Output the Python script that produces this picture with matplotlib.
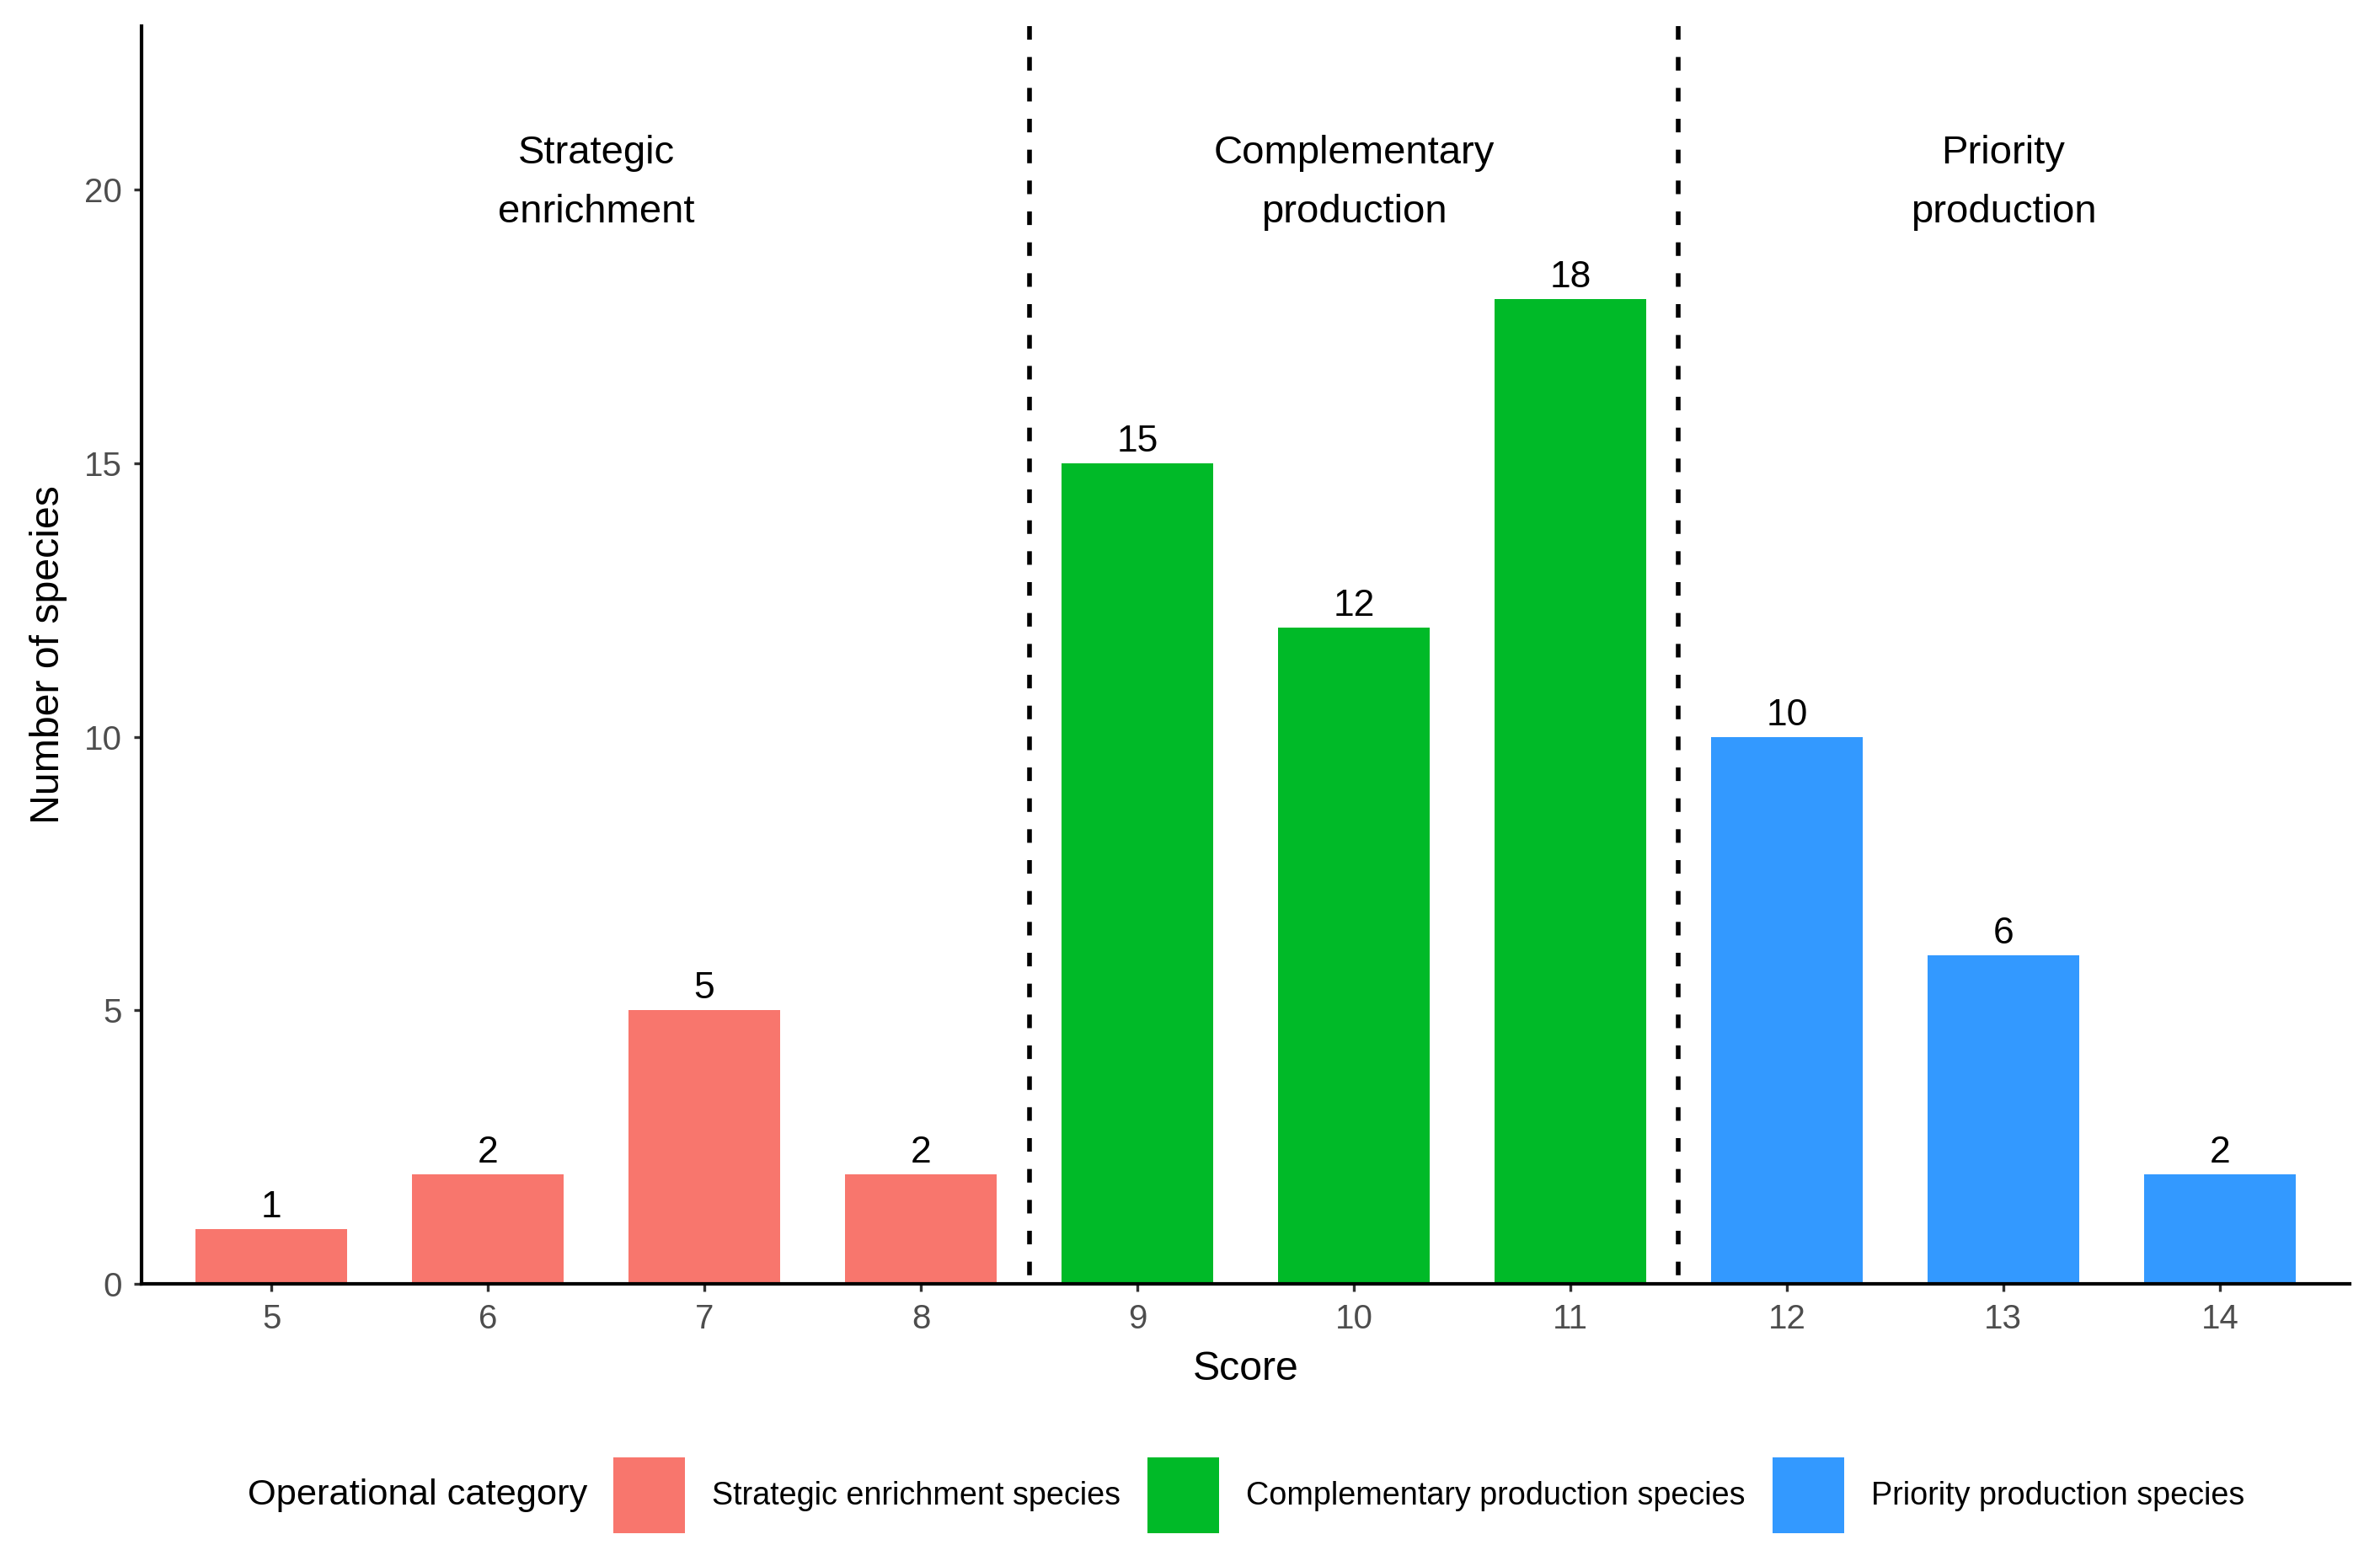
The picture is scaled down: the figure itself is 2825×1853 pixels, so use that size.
import matplotlib
matplotlib.use("Agg")
import matplotlib.pyplot as plt
import numpy as np
from matplotlib.patches import Patch

plt.rcParams['font.family'] = ['Liberation Sans', 'DejaVu Sans']

# ---- data ----
scores = [5, 6, 7, 8, 9, 10, 11, 12, 13, 14]
counts = [1, 2, 5, 2, 15, 12, 18, 10, 6, 2]
category = ["Strategic enrichment species"] * 4 + \
           ["Complementary production species"] * 3 + \
           ["Priority production species"] * 3
legend_order = ["Strategic enrichment species",
                "Complementary production species",
                "Priority production species"]
section_labels = ["Strategic\nenrichment", "Complementary\nproduction", "Priority\nproduction"]
colors = {"Strategic enrichment species": "#F8766D",
          "Complementary production species": "#00BA28",
          "Priority production species": "#3399FF"}
y_ticks = [0, 5, 10, 15, 20]

W, H, DPI = 2825, 1853, 200
fig = plt.figure(figsize=(W / DPI, H / DPI), dpi=DPI)
ax = fig.add_axes([168 / W, 1 - 1524 / H, (2789 - 168) / W, (1524 - 30.6) / H])

YMAX = 23
scores_a = np.array(scores)
counts_a = np.array(counts)
cat_a = np.array(category)

for cat in legend_order:
    m = cat_a == cat
    ax.bar(scores_a[m], counts_a[m], width=0.7, color=colors[cat], label=cat, zorder=2)

for s, c in zip(scores, counts):
    ax.text(s, c + 0.08, str(c), ha='center', va='bottom', fontsize=16, color='black')

# dividers & section labels
for i, cat in enumerate(legend_order):
    grp = scores_a[cat_a == cat]
    ax.text(grp.mean(), 20.13, section_labels[i], ha='center', va='center',
            fontsize=17, linespacing=1.76, color='black')
    if i < len(legend_order) - 1:
        nxt = scores_a[cat_a == legend_order[i + 1]]
        xd = (grp.max() + nxt.min()) / 2
        ax.plot([xd, xd], [YMAX, 0], color='black', lw=2,
                dashes=(2.9, 3.7), zorder=3, solid_capstyle='butt')

ax.set_xlim(4.4, 14.6)
ax.set_ylim(0, YMAX)
ax.set_xticks(scores)
ax.set_xticklabels([str(s) for s in scores])
ax.set_yticks(y_ticks)

for side in ['top', 'right']:
    ax.spines[side].set_visible(False)
for side in ['left', 'bottom']:
    ax.spines[side].set_linewidth(1.5)
    ax.spines[side].set_color('black')
ax.tick_params(axis='both', length=3.3, width=1.2, color='#333333',
               labelcolor='#4D4D4D', labelsize=14.5, pad=5)

ax.set_xlabel("Score", fontsize=17.4, va='center')
ax.xaxis.set_label_coords(0.5, -0.0679)
ax.set_ylabel("Number of species", fontsize=17.4, va='center')
ax.yaxis.set_label_coords(-0.042, 0.5)

# legend
fig.text(294 / W, 1 - 1775 / H, "Operational category", fontsize=15.6,
         ha='left', va='center')
handles = [Patch(facecolor=colors[c], edgecolor='none') for c in legend_order]
fig.legend(handles, legend_order, loc='center left',
           bbox_to_anchor=(728 / W, 1 - 1775 / H), ncol=3, frameon=False,
           fontsize=13.6, handlelength=2.25, handleheight=3.25,
           handletextpad=0.85, columnspacing=0.85, borderpad=0, borderaxespad=0)

fig.savefig("out.png", dpi=DPI)
